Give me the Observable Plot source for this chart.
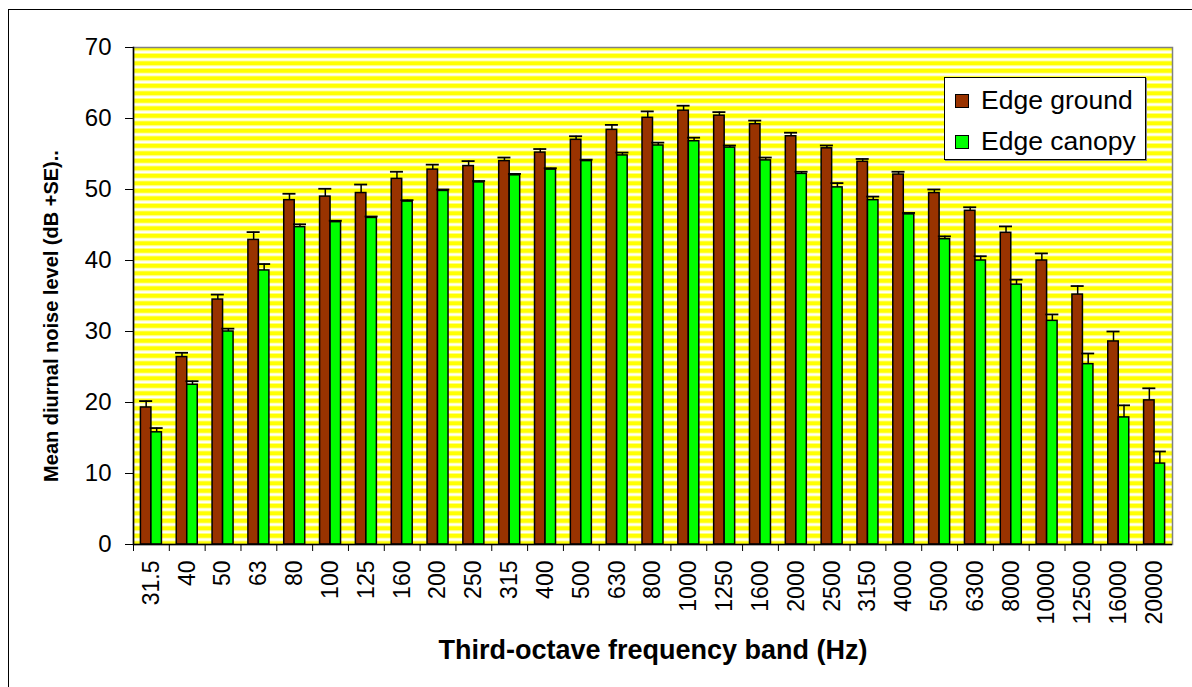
<!DOCTYPE html>
<html><head><meta charset="utf-8">
<script src="https://cdn.jsdelivr.net/npm/d3@7"></script>
<script src="https://cdn.jsdelivr.net/npm/@observablehq/plot@0.6"></script>
<style>
html,body{margin:0;padding:0;background:#fff;overflow:hidden;font-family:"Liberation Sans",Arial,sans-serif}
#wrap{position:relative;width:1192px;height:687px}
#border{position:absolute;left:8px;top:9px;width:1200px;height:700px;border:1px solid #000;pointer-events:none}
#legend{position:absolute;left:944px;top:77px;width:202px;height:83px;background:#fff;border:1px solid #000;box-sizing:border-box;box-shadow:1px 1px 0 #888}
.item{position:absolute;left:10px;display:flex;align-items:center;font-size:26.5px;color:#000;white-space:nowrap}
.sw{width:14px;height:14px;border:1.5px solid #000;margin-right:12px;box-sizing:border-box}
</style>
</head><body>
<div id="wrap"><div id="chart"></div><div id="border"></div>
<div id="legend"></div></div>
<script>
const freqs = ["31.5","40","50","63","80","100","125","160","200","250","315","400","500","630","800","1000","1250","1600","2000","2500","3150","4000","5000","6300","8000","10000","12500","16000","20000"];
const ground = [19.3,26.4,34.5,42.9,48.5,49.0,49.5,51.5,52.8,53.3,54.0,55.2,57.0,58.4,60.1,61.1,60.4,59.2,57.5,55.8,53.9,52.1,49.5,47.0,43.9,40.0,35.2,28.6,20.3];
const groundSE = [0.9,0.6,0.7,1.1,0.9,1.1,1.2,1.0,0.7,0.7,0.5,0.5,0.5,0.7,0.9,0.7,0.5,0.5,0.5,0.4,0.4,0.4,0.5,0.5,0.9,1.0,1.2,1.4,1.7];
const canopy = [15.8,22.5,30.0,38.6,44.7,45.4,46.0,48.3,49.8,51.0,52.0,52.8,54.0,54.8,56.2,56.8,55.9,54.1,52.2,50.3,48.5,46.5,43.0,40.0,36.6,31.5,25.4,17.9,11.4];
const canopySE = [0.6,0.5,0.4,0.9,0.4,0.2,0.2,0.2,0.2,0.2,0.2,0.2,0.2,0.4,0.4,0.5,0.3,0.4,0.3,0.6,0.5,0.2,0.4,0.6,0.7,0.9,1.5,1.7,1.7];
const seriesNames = ["Edge ground","Edge canopy"];
const seriesColors = ["#993300","#00ff00"];
const yTicks = [0,10,20,30,40,50,60,70];
const xTitle = "Third-octave frequency band (Hz)";
const yTitle = "Mean diurnal noise level (dB +SE)..";

const rows = freqs.map((f,i)=>({freq:f, ground:ground[i], gTop:ground[i]+groundSE[i], canopy:canopy[i], cTop:canopy[i]+canopySE[i]}));

const W=1192,H=687,ml=133,mr=20,mt=47,mb=143;
const step=(W-ml-mr)/freqs.length;
const barW=10.5, capW=13;
const bIn=(step-barW)/2, cIn=(step-capW)/2;

const chart = Plot.plot({
  width:W,height:H,marginLeft:ml,marginRight:mr,marginTop:mt,marginBottom:mb,
  style:{fontFamily:"'Liberation Sans',Arial,sans-serif",color:"#000",background:"transparent",overflow:"visible"},
  x:{type:"band",domain:freqs,padding:0,round:false},
  y:{domain:[0,70]},
  marks:[
    Plot.frame({fill:"url(#stripes)",stroke:"#808080",strokeWidth:1.5}),
    Plot.barY(rows,{x:"freq",y:"ground",fill:seriesColors[0],stroke:"#000",strokeWidth:1.5,insetLeft:bIn,insetRight:bIn,dx:-barW/2}),
    Plot.barY(rows,{x:"freq",y:"canopy",fill:seriesColors[1],stroke:"#000",strokeWidth:1.5,insetLeft:bIn,insetRight:bIn,dx:barW/2}),
    Plot.ruleX(rows,{x:"freq",y1:"ground",y2:"gTop",dx:-barW/2,stroke:"#000",strokeWidth:1.5}),
    Plot.ruleX(rows,{x:"freq",y1:"canopy",y2:"cTop",dx:barW/2,stroke:"#000",strokeWidth:1.5}),
    Plot.tickY(rows,{x:"freq",y:"gTop",dx:-barW/2,insetLeft:cIn,insetRight:cIn,stroke:"#000",strokeWidth:1.8}),
    Plot.tickY(rows,{x:"freq",y:"cTop",dx:barW/2,insetLeft:cIn,insetRight:cIn,stroke:"#000",strokeWidth:1.8}),
    Plot.frame({anchor:"left",stroke:"#000",strokeWidth:1.5}),
    Plot.ruleY([0],{stroke:"#000",strokeWidth:1.5}),
    Plot.axisY({ticks:yTicks,tickSize:8,tickPadding:14,fontSize:24,label:null}),
    Plot.axisX({tickRotate:-90,tickSize:0,tickPadding:16,fontSize:23,label:null}),
    Plot.axisX({text:null,tickSize:7,dx:-step/2,label:null}),
    Plot.text([xTitle],{text:d=>d,frameAnchor:"bottom",lineAnchor:"middle",dy:106,fontSize:27,fontWeight:"bold"}),
    Plot.text([yTitle],{text:d=>d,frameAnchor:"left",textAnchor:"middle",rotate:-90,dx:-82,dy:20,fontSize:20,fontWeight:"bold"})
  ]
});
const ns="http://www.w3.org/2000/svg";
const defs=document.createElementNS(ns,"defs");
defs.innerHTML='<pattern id="stripes" patternUnits="userSpaceOnUse" x="0" y="0" width="10" height="7.5"><rect width="10" height="7.5" fill="#ffffff"/><rect y="0.5" width="10" height="4.5" fill="#ffff00"/><rect y="5" width="10" height="0.8" fill="#ffff99"/></pattern>';
chart.insertBefore(defs,chart.firstChild);
document.getElementById("chart").appendChild(chart);

const leg=document.getElementById("legend");
seriesNames.forEach((n,i)=>{
  const it=document.createElement("div");it.className="item";it.style.top=(i===0?7:48)+"px";
  const sw=document.createElement("div");sw.className="sw";sw.style.background=seriesColors[i];
  const t=document.createElement("span");t.textContent=n;
  it.appendChild(sw);it.appendChild(t);leg.appendChild(it);
});
</script>
</body></html>
